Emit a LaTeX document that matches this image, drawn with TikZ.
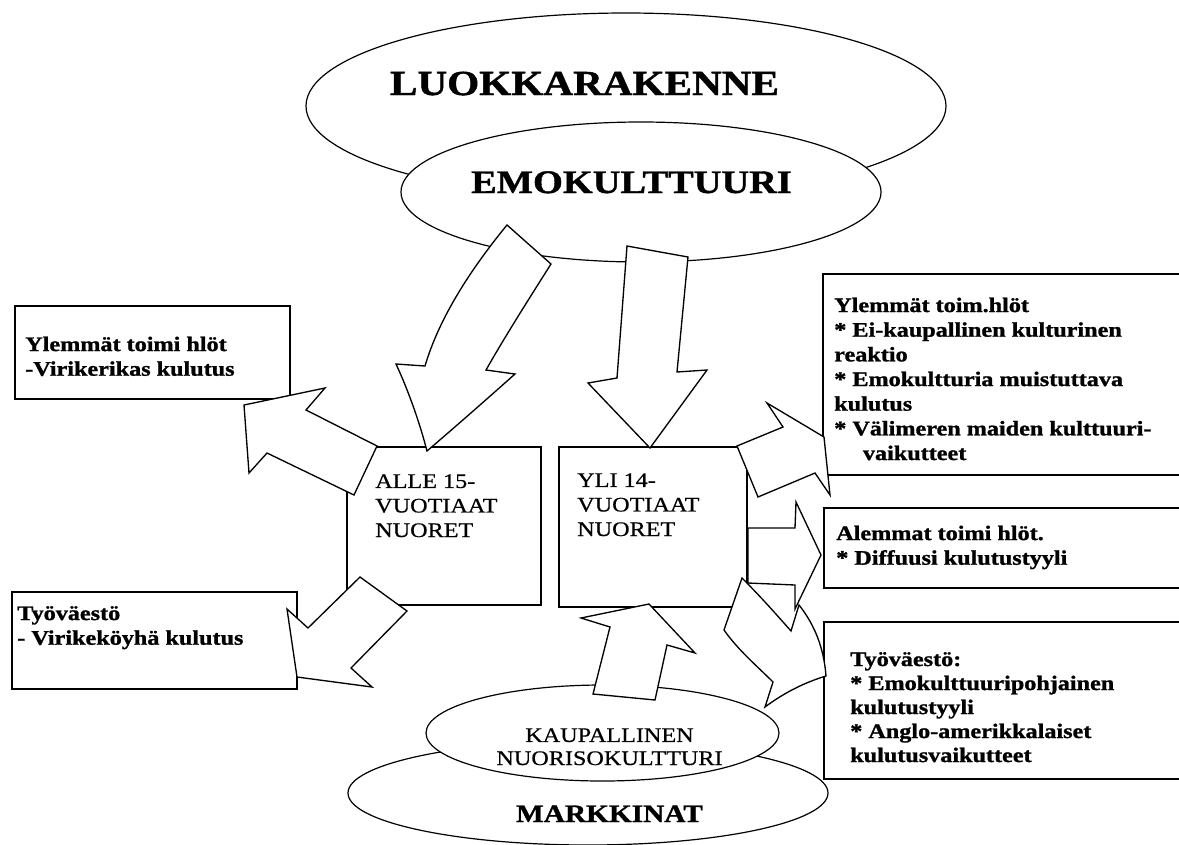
\documentclass[tikz,border=0pt]{standalone}
\usepackage{fontspec}
\setmainfont{Liberation Serif}[FakeStretch=1.17, BoldFeatures={FakeBold=1.2}]
\newfontfamily\agefont{Liberation Serif}[FakeStretch=1.17, FakeBold=0.6]
\usetikzlibrary{shapes.geometric}

\begin{document}
\begin{tikzpicture}[
  x=0.75pt, y=-0.75pt,
  ell/.style={ellipse, draw, fill=white, line width=0.9pt, inner sep=0pt, outer sep=0pt},
  textbox/.style={rectangle, draw, fill=white, line width=1.4pt, inner sep=0pt, outer sep=0pt, anchor=north west},
  blockarrow/.style={draw, fill=white, line width=1pt, line join=miter},
  bigcap/.style={anchor=base, inner sep=0pt, font=\bfseries\fontsize{26.4pt}{30pt}\selectfont},
  emocap/.style={anchor=base, inner sep=0pt, font=\bfseries\fontsize{24.6pt}{28pt}\selectfont},
  markcap/.style={anchor=base, inner sep=0pt, font=\bfseries\fontsize{18.8pt}{22pt}\selectfont},
  agetext/.style={anchor=base west, align=left, inner sep=0pt, font=\agefont\fontsize{15.5pt}{18.4pt}\selectfont},
  bodytext/.style={anchor=base west, align=left, inner sep=0pt, font=\bfseries\fontsize{15.5pt}{18.5pt}\selectfont},
]
\fill[white] (0,0) rectangle (1179,844);
\useasboundingbox (0,0) rectangle (1179,844);
\clip (0,0) rectangle (1179,844);

% ---- ellipses ----
\node[ell, minimum width=480pt, minimum height=139.5pt] (luokka) at (626,106) {};
\node[ell, minimum width=360pt, minimum height=105pt] (emo) at (641,192) {};
\node[ell, minimum width=360pt, minimum height=78pt] (mark) at (588,793) {};
\node[ell, minimum width=264.75pt, minimum height=72pt] (kaup) at (602.5,733) {};

% ---- boxes ----
\node[textbox, minimum width=206.25pt, minimum height=69.75pt] (ylemL) at (15,306) {};
\node[textbox, minimum width=213.75pt, minimum height=72.75pt] (tyoL) at (12,592) {};
\node[textbox, minimum width=145.5pt, minimum height=118.5pt] (alle) at (347,447) {};
\node[textbox, minimum width=141pt, minimum height=120pt] (yli) at (559,447) {};
\node[textbox, minimum width=275.25pt, minimum height=150.75pt] (ylemR) at (823,274) {};
\node[textbox, minimum width=274.5pt, minimum height=60pt] (alem) at (824,508) {};
\node[textbox, minimum width=274.5pt, minimum height=117.75pt] (tyoR) at (824,622) {};

% ---- block arrows ----
% emokulttuuri -> alle 15 (curved)
\draw[blockarrow] (507,225) .. controls (466,275) and (438,322) .. (425,366)
  -- (396,364) .. controls (409,392) and (420,424) .. (427,451)
  .. controls (448,433) and (478,407) .. (515,374)
  -- (486,370) .. controls (503,340) and (525,305) .. (551,264) -- cycle;
% emokulttuuri -> yli 14
\draw[blockarrow] (627,246) -- (688,257) -- (677,372) -- (707,370) -- (650,448)
  -- (588,383) -- (617,378) -- cycle;
% alle 15 -> ylemmat (left)
\draw[blockarrow] (377,446) -- (306,410) -- (325,388) -- (244,405) -- (249,473)
  -- (267,453) -- (354,495) -- cycle;
% alle 15 -> tyovaesto (left)
\draw[blockarrow] (360,577) -- (407,611) -- (351,668) -- (372,687) -- (297,677)
  -- (287,609) -- (308,628) -- cycle;
% yli 14 -> ylemmat (right)
\draw[blockarrow] (737,446) -- (783,427) -- (767,403) -- (824,437) -- (830,495)
  -- (815,473) -- (758,497) -- cycle;
% yli 14 -> alemmat
\draw[blockarrow] (748,528) -- (795,528) -- (796,502) -- (821,555) -- (795,609)
  -- (795,585) -- (748,583) -- cycle;
% yli 14 -> tyovaesto (right, curved)
\draw[blockarrow] (742,578) .. controls (760,596) and (776,614) .. (791,631)
  -- (799,605) .. controls (815,625) and (824,649) .. (826,676)
  .. controls (806,682) and (785,692) .. (765,707)
  -- (773,682) .. controls (757,666) and (738,650) .. (724,630) -- cycle;
% nuorisokulttuuri -> yli 14
\draw[blockarrow] (649,604) -- (695,653) -- (667,645) -- (655,700) -- (593,694)
  -- (610,627) -- (581,618) -- cycle;

% ---- texts (multi-line nodes sit on the baseline of their last line) ----
\node[bigcap] (tLuokka) at (584.5,95) {LUOKKARAKENNE};
\node[emocap] (tEmo) at (631.5,193) {EMOKULTTUURI};
\node[markcap] (tMark) at (609.5,822) {MARKKINAT};
\node[agetext, align=center, anchor=base, font=\agefont\fontsize{15.5pt}{17.3pt}\selectfont] (tKaup) at (609.5,765) {KAUPALLINEN\\NUORISOKULTTURI};

\node[bodytext] (tYlemL) at (25,375.7) {Ylemmät toimi hlöt\\-Virikerikas kulutus};
\node[bodytext] (tTyoL) at (17,644.7) {Työväestö\\- Virikeköyhä kulutus};
\node[agetext] (tAlle) at (375,537) {ALLE 15-\\VUOTIAAT\\NUORET};
\node[agetext] (tYli) at (577,536) {YLI 14-\\VUOTIAAT\\NUORET};
\node[bodytext] (tYlemR) at (834,460) {Ylemmät toim.hlöt\\{*} Ei-kaupallinen kulturinen\\reaktio\\{*} Emokultturia muistuttava\\kulutus\\{*} Välimeren maiden kulttuuri-\\\hspace*{21.5pt}vaikutteet};
\node[bodytext] (tAlem) at (836,564.7) {Alemmat toimi hlöt.\\{*} Diffuusi kulutustyyli};
\node[bodytext, font=\bfseries\fontsize{15.5pt}{18pt}\selectfont] (tTyoR) at (850,762) {Työväestö:\\{*} Emokulttuuripohjainen\\kulutustyyli\\{*} Anglo-amerikkalaiset\\kulutusvaikutteet};
\end{tikzpicture}
\end{document}
